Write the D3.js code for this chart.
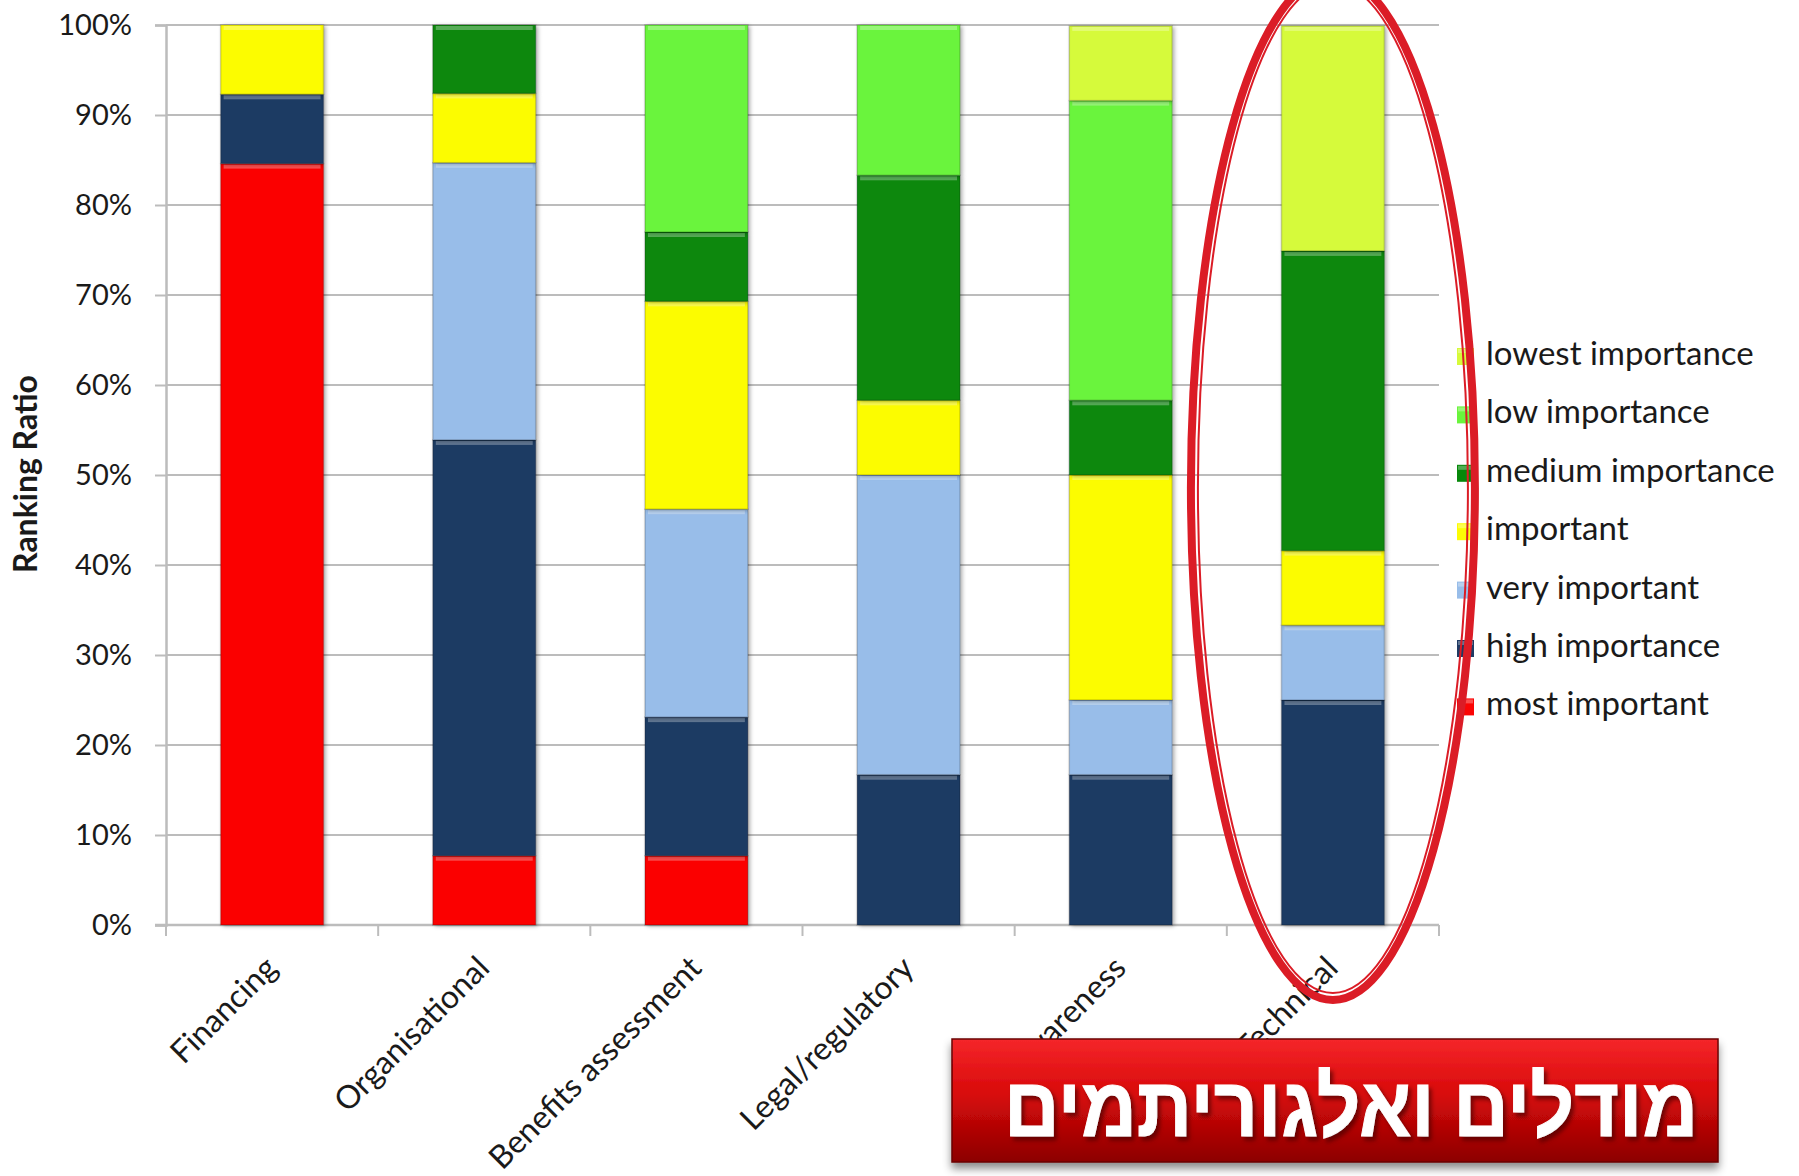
<!DOCTYPE html>
<html lang="en">
<head>
<meta charset="UTF-8">
<title>Ranking Ratio</title>
<script src="https://cdn.jsdelivr.net/npm/d3@7"></script>
<style>
  body { margin: 0; padding: 0; background: #fff; }
  svg { display: block; }
  text { font-family: Lato, "Liberation Sans", sans-serif; fill: #1a1a1a; }
</style>
</head>
<body>
<svg id="chart" width="1799" height="1176"></svg>
<script>
// categories (x axis)
const categories = ["Financing", "Organisational", "Benefits assessment", "Legal/regulatory", "Awareness", "Technical"];

// series, bottom to top of each stack (percent of respondents)
const mostImportant   = [84.6, 7.7, 7.7, 0, 0, 0];
const highImportance  = [7.7, 46.2, 15.4, 16.7, 16.7, 25];
const veryImportant   = [0, 30.8, 23.1, 33.3, 8.3, 8.3];
const important       = [7.7, 7.7, 23.1, 8.3, 25, 8.3];
const mediumImportance = [0, 7.7, 7.7, 25, 8.3, 33.3];
const lowImportance   = [0, 0, 23.1, 16.7, 33.3, 0];
const lowestImportance = [0, 0, 0, 0, 8.3, 25];

const seriesNames = ["most important", "high importance", "very important", "important",
                     "medium importance", "low importance", "lowest importance"];
const seriesValues = [mostImportant, highImportance, veryImportant, important,
                      mediumImportance, lowImportance, lowestImportance];
const seriesColors = ["#fb0404", "#1f3a63", "#98bde9", "#fcfc04", "#07880a", "#6af43c", "#d6fa3a"];

const yTicks = [0, 10, 20, 30, 40, 50, 60, 70, 80, 90, 100];
const yTitle = "Ranking Ratio";
const bannerText = "מודלים ואלגוריתמים";

const svg = d3.select("#chart");
const plotL = 166, plotR = 1439, plotT = 25, plotB = 925;

const x = d3.scaleBand().domain(categories).range([plotL, plotR])
    .paddingInner(0.515).paddingOuter(0.2575);
const y = d3.scaleLinear().domain([0, 100]).range([plotB, plotT]);
const color = d3.scaleOrdinal().domain(seriesNames).range(seriesColors);

// table for d3.stack
const table = categories.map((c, i) => {
    const row = { category: c };
    seriesNames.forEach((s, j) => row[s] = seriesValues[j][i]);
    return row;
});
const stacked = d3.stack().keys(seriesNames)(table);

const defs = svg.append("defs");
const shadow = defs.append("filter").attr("id", "barShadow")
    .attr("x", "-10%").attr("y", "-10%").attr("width", "130%").attr("height", "120%");
shadow.append("feDropShadow").attr("dx", 2).attr("dy", 1).attr("stdDeviation", 2)
    .attr("flood-color", "#000").attr("flood-opacity", 0.35);

const bannerGrad = defs.append("linearGradient").attr("id", "bannerGrad")
    .attr("x1", 0).attr("y1", 0).attr("x2", 0).attr("y2", 1);
bannerGrad.append("stop").attr("offset", "0%").attr("stop-color", "#f5262a");
bannerGrad.append("stop").attr("offset", "45%").attr("stop-color", "#d80a0a");
bannerGrad.append("stop").attr("offset", "100%").attr("stop-color", "#8c0000");

const bannerShadow = defs.append("filter").attr("id", "bannerShadow")
    .attr("x", "-5%").attr("y", "-10%").attr("width", "110%").attr("height", "130%");
bannerShadow.append("feDropShadow").attr("dx", 0).attr("dy", 6).attr("stdDeviation", 4)
    .attr("flood-color", "#000").attr("flood-opacity", 0.45);

const textShadow = defs.append("filter").attr("id", "textShadow")
    .attr("x", "-5%").attr("y", "-20%").attr("width", "110%").attr("height", "150%");
textShadow.append("feDropShadow").attr("dx", 3).attr("dy", 4).attr("stdDeviation", 2)
    .attr("flood-color", "#4a0000").attr("flood-opacity", 0.7);

// gridlines + y axis
const yAxis = svg.append("g").attr("transform", `translate(${plotL},0)`)
    .call(d3.axisLeft(y).tickValues(yTicks).tickFormat(d => d + "%")
        .tickSize(11).tickPadding(23));
yAxis.select(".domain").attr("stroke", "#bcbcbc").attr("stroke-width", 2.5);
yAxis.selectAll(".tick line").attr("stroke", "#bcbcbc").attr("stroke-width", 2);
yAxis.selectAll(".tick text").attr("font-size", 29).attr("fill", "#1a1a1a");

svg.append("g").selectAll("line").data(yTicks.filter(d => d > 0)).join("line")
    .attr("x1", plotL).attr("x2", plotR)
    .attr("y1", d => y(d)).attr("y2", d => y(d))
    .attr("stroke", "#bcbcbc").attr("stroke-width", 2);

// x axis line + boundary ticks
const gap = (x.step() - x.bandwidth()) / 2;
const bounds = categories.map(c => x(c) - gap).concat([x(categories[categories.length - 1]) + x.bandwidth() + gap]);
svg.append("line").attr("x1", plotL - 11).attr("x2", plotR)
    .attr("y1", y(0)).attr("y2", y(0)).attr("stroke", "#bcbcbc").attr("stroke-width", 2.5);
svg.append("g").selectAll("line").data(bounds).join("line")
    .attr("x1", d => d).attr("x2", d => d)
    .attr("y1", y(0)).attr("y2", y(0) + 11)
    .attr("stroke", "#bcbcbc").attr("stroke-width", 2);

// bars
const layers = svg.append("g").selectAll("g").data(stacked).join("g")
    .attr("fill", d => color(d.key));
const segs = layers.selectAll("g").data(d => d.filter(p => p[1] - p[0] > 0)).join("g");
segs.append("rect")
    .attr("x", d => x(d.data.category))
    .attr("width", x.bandwidth())
    .attr("y", d => y(Math.min(100, d[1])))
    .attr("height", d => y(d[0]) - y(Math.min(100, d[1])))
    .attr("filter", "url(#barShadow)");
// bevel highlight along top and a faint edge
segs.append("rect")
    .attr("x", d => x(d.data.category) + 3)
    .attr("width", x.bandwidth() - 6)
    .attr("y", d => y(Math.min(100, d[1])) + 1)
    .attr("height", 4)
    .attr("fill", "#fff").attr("opacity", 0.3);
segs.append("rect")
    .attr("x", d => x(d.data.category))
    .attr("width", x.bandwidth())
    .attr("y", d => y(Math.min(100, d[1])))
    .attr("height", d => y(d[0]) - y(Math.min(100, d[1])))
    .attr("fill", "none").attr("stroke", "#000").attr("stroke-opacity", 0.18).attr("stroke-width", 1.5);

// x labels, rotated
svg.append("g").selectAll("text").data(categories).join("text")
    .attr("transform", d => `translate(${x(d) + x.bandwidth() / 2 + 7},${y(0) + 45}) rotate(-45)`)
    .attr("text-anchor", "end")
    .attr("font-size", 32)
    .text(d => d);

// y title
svg.append("text")
    .attr("transform", `translate(37,${(373 + 575) / 2}) rotate(-90)`)
    .attr("text-anchor", "middle")
    .attr("font-size", 32).attr("font-weight", "bold")
    .text(yTitle);

// legend, top row = last series
const legend = svg.append("g").selectAll("g").data(seriesNames.slice().reverse()).join("g")
    .attr("transform", (d, i) => `translate(1457,${365 + i * 58.4})`);
legend.append("rect").attr("x", 0).attr("y", -17).attr("width", 17).attr("height", 17)
    .attr("fill", d => color(d));
legend.append("rect").attr("x", 1).attr("y", -16).attr("width", 15).attr("height", 4)
    .attr("fill", "#fff").attr("opacity", 0.3);
legend.append("text").attr("x", 29).attr("y", 0)
    .attr("font-size", 33).text(d => d);

// red double ellipse highlighting the Technical column
const tc = x("Technical") + x.bandwidth() / 2;
svg.append("ellipse").attr("cx", tc).attr("cy", 488).attr("rx", 142).attr("ry", 512)
    .attr("fill", "none").attr("stroke", "#db1c26").attr("stroke-width", 8);
svg.append("ellipse").attr("cx", tc).attr("cy", 488).attr("rx", 135).attr("ry", 505)
    .attr("fill", "none").attr("stroke", "#db1c26").attr("stroke-width", 2);

// banner
svg.append("rect").attr("x", 952).attr("y", 1039).attr("width", 766).attr("height", 123)
    .attr("fill", "url(#bannerGrad)").attr("stroke", "#6a0000").attr("stroke-width", 1.5)
    .attr("filter", "url(#bannerShadow)");
svg.append("text")
    .attr("x", 1351).attr("y", 1136)
    .attr("text-anchor", "middle")
    .attr("direction", "rtl")
    .attr("font-family", "'Liberation Sans', 'DejaVu Sans', sans-serif")
    .attr("font-weight", "bold").attr("font-size", 84)
    .attr("textLength", 694).attr("lengthAdjust", "spacingAndGlyphs")
    .attr("filter", "url(#textShadow)")
    .attr("stroke", "#fff").attr("stroke-width", 1)
    .style("fill", "#fff")
    .text(bannerText);
</script>
</body>
</html>
